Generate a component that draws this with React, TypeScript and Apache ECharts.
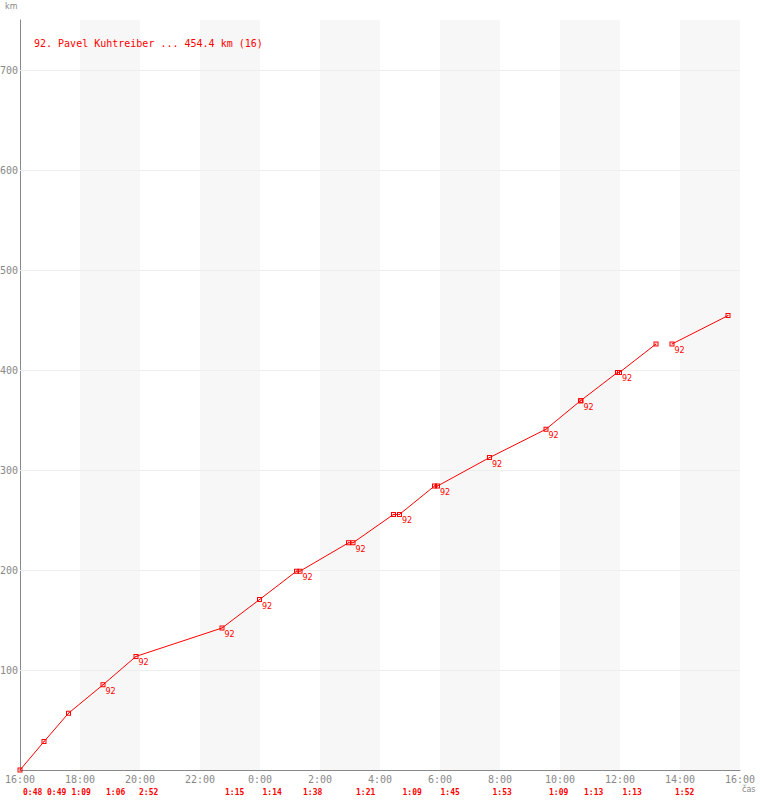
import React, { useEffect, useRef } from "react";
import * as echarts from "echarts";

// Elapsed minutes since 16:00 for each recorded point
const pointTimes = [0, 48, 97, 166, 232, 404, 479, 553, 560, 657, 666, 747, 759, 829, 835, 939, 1052, 1121, 1122, 1195, 1199, 1272, 1304, 1416];
// Distance (km) at each point
const pointKm = [0, 28.4, 56.8, 85.2, 113.6, 142.0, 170.4, 198.8, 198.8, 227.2, 227.2, 255.6, 255.6, 284.0, 284.0, 312.4, 340.8, 369.2, 369.2, 397.6, 397.6, 426.0, 426.0, 454.4];
// Whether the point carries the "92" label
const pointLabeled = [false, false, false, true, true, true, true, false, true, false, true, false, true, false, true, true, true, false, true, false, true, false, true, false];
// The line is broken after this point index
const breakAfter = 21;

// Lap start times (minutes since 16:00) and lap durations
const lapStarts = [0, 48, 97, 166, 232, 404, 479, 560, 666, 759, 835, 939, 1052, 1122, 1199, 1304];
const lapDurations = ["0:48", "0:49", "1:09", "1:06", "2:52", "1:15", "1:14", "1:38", "1:21", "1:09", "1:45", "1:53", "1:09", "1:13", "1:13", "1:52"];

const gridKm = [100, 200, 300, 400, 500, 600, 700];
const riderNo = "92";
const title = "92. Pavel Kuhtreiber ... 454.4 km (16)";

const RED = "#ff0000";
const GRAY = "#888888";
const MONO = "DejaVu Sans Mono";
const SYMBOL = "path://M0 0H5V5H0Z M1 1V4H4V1Z M2 2H3V3H2Z";

function buildItems(from: number, to: number) {
  const out: any[] = [];
  for (let i = from; i < to; i++) {
    out.push({
      value: [pointTimes[i], pointKm[i]],
      label: { show: pointLabeled[i] },
    });
  }
  return out;
}

export default function App() {
  const ref = useRef<HTMLDivElement>(null);
  useEffect(() => {
    document.body.style.margin = "0";
    const chart = echarts.init(ref.current!, null, { renderer: "svg" });
    const seriesBase = {
      type: "line",
      xAxisIndex: 0,
      yAxisIndex: 0,
      symbol: SYMBOL,
      symbolSize: 5,
      lineStyle: { color: RED, width: 1 },
      itemStyle: { color: RED },
      label: {
        position: [5, 5],
        formatter: () => riderNo,
        color: RED,
        fontSize: 8,
        fontFamily: "DejaVu Sans",
      },
      emphasis: { disabled: true },
      silent: true,
    };
    chart.setOption({
      animation: false,
      backgroundColor: "#ffffff",
      title: {
        text: title,
        left: 29,
        top: 33,
        textStyle: { color: RED, fontSize: 10, fontWeight: "normal", fontFamily: MONO },
      },
      grid: { left: 20, right: 20, top: 20, bottom: 30, containLabel: false, outerBoundsMode: "none" },
      xAxis: [
        {
          type: "value",
          min: 0,
          max: 1440,
          interval: 120,
          position: "bottom",
          axisLine: { show: true, onZero: false, lineStyle: { color: GRAY, width: 1 } },
          axisTick: { show: false },
          splitLine: { show: false },
          splitArea: { show: true, areaStyle: { color: ["rgba(255,255,255,0)", "#f7f7f7"] } },
          axisLabel: {
            color: GRAY,
            fontSize: 10,
            fontFamily: MONO,
            margin: 4,
            formatter: (v: number) => {
              const h = Math.floor((16 * 60 + v) / 60) % 24;
              return h + ":00";
            },
          },
        },
        {
          type: "value",
          min: 0,
          max: 1440,
          position: "bottom",
          axisLine: { show: false, onZero: false },
          axisTick: { show: false },
          splitLine: { show: false },
          splitArea: { show: false },
          axisLabel: {
            customValues: lapStarts,
            align: "left",
            padding: [0, 0, 0, 3],
            margin: 18,
            color: RED,
            fontSize: 8,
            fontWeight: "bold",
            fontFamily: MONO,
            formatter: (v: number) => {
              const i = lapStarts.indexOf(v);
              return i >= 0 ? lapDurations[i] : "";
            },
          },
        },
      ],
      yAxis: {
        type: "value",
        min: 0,
        max: 750,
        interval: 100,
        axisLine: { show: true, lineStyle: { color: GRAY, width: 1 } },
        axisTick: { show: false },
        splitLine: { show: false },
        axisLabel: {
          color: GRAY,
          fontSize: 10,
          fontFamily: MONO,
          margin: 2,
          showMinLabel: false,
          showMaxLabel: false,
        },
      },
      graphic: [
        { type: "text", left: 5, top: 2, style: { text: "km", fill: GRAY, fontSize: 8, fontFamily: "DejaVu Sans" } },
        { type: "text", left: 742, top: 785, style: { text: "čas", fill: GRAY, fontSize: 8, fontFamily: "DejaVu Sans" } },
      ],
      series: [
        {
          ...seriesBase,
          z: 3,
          data: buildItems(0, breakAfter + 1),
          markLine: {
            silent: true,
            symbol: "none",
            label: { show: false },
            lineStyle: { color: "#eeeeee", width: 1, type: "solid" },
            data: gridKm.map((k) => ({ yAxis: k })),
            z: 1,
          },
        },
        {
          ...seriesBase,
          z: 3,
          data: buildItems(breakAfter + 1, pointTimes.length),
        },
      ],
    });
    return () => chart.dispose();
  }, []);
  return (
    <div
      ref={ref}
      style={{ position: "absolute", left: 0, top: 0, width: 760, height: 800 }}
    />
  );
}
